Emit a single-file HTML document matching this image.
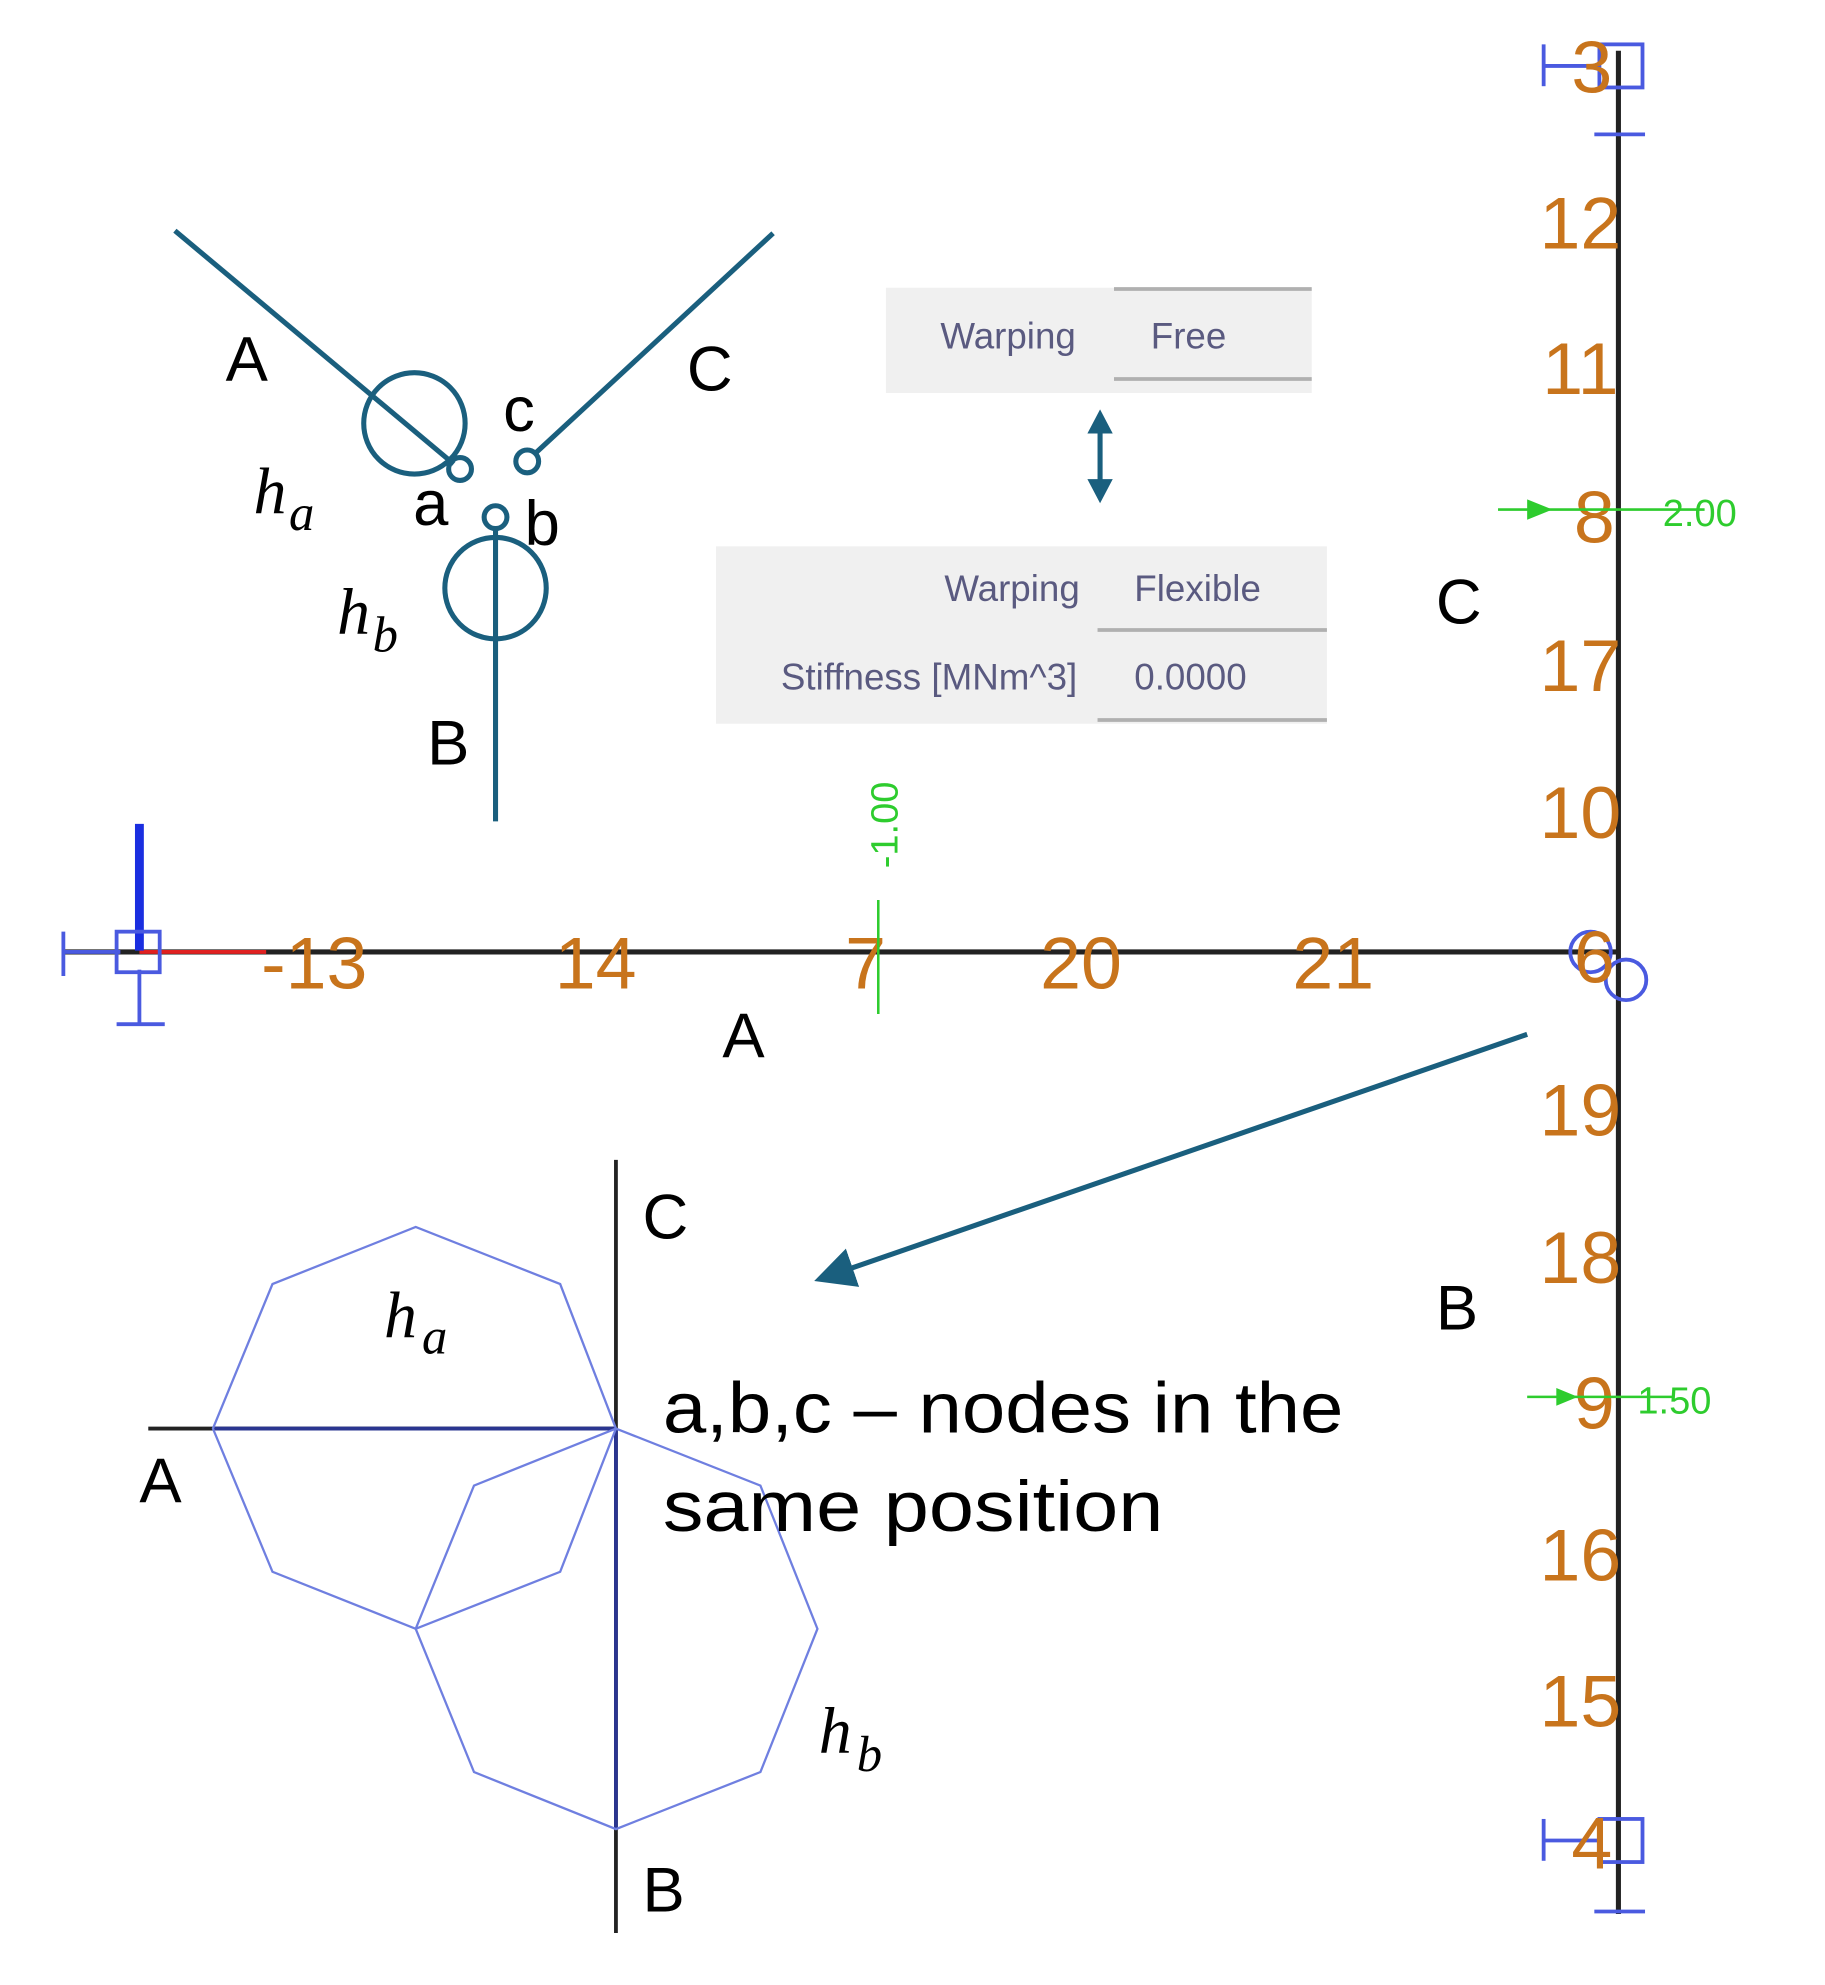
<!DOCTYPE html>
<html><head><meta charset="utf-8"><style>
html,body{margin:0;padding:0;background:#fff;}
svg{display:block}
text{font-family:"Liberation Sans",sans-serif}
.o{fill:#c8741c;font-size:58px;font-family:"Liberation Sans Narrow","Liberation Sans",sans-serif;text-anchor:middle}
.k{fill:#000;font-size:50px}
.m{fill:#000;font-size:52px;font-family:"Liberation Serif",serif;font-style:italic}
.s{fill:#000;font-size:40px;font-family:"Liberation Serif",serif;font-style:italic}
.w{fill:#5a5a80;font-size:29px}
.g{fill:#2ecc2e;font-size:30px;font-family:"Liberation Sans Narrow","Liberation Sans",sans-serif}
</style></head><body>
<svg width="1825" height="1985" viewBox="0 0 1440 1566" preserveAspectRatio="none" xmlns="http://www.w3.org/2000/svg">
<defs><marker id="ah" markerWidth="8" markerHeight="8" refX="6" refY="4" orient="auto" markerUnits="strokeWidth"><path d="M0,0 L8,4 L0,8 z" fill="#1a5f7e"/></marker></defs>
<g stroke="#1a5f7e" stroke-width="4" fill="none">
<line x1="138" y1="182" x2="358" y2="366"/>
<line x1="610" y1="184" x2="422" y2="358"/>
<line x1="391" y1="418" x2="391" y2="648"/>
<circle cx="327" cy="334" r="40"/>
<circle cx="391" cy="464" r="40"/>
<circle cx="363" cy="370" r="9"/>
<circle cx="416" cy="364" r="9"/>
<circle cx="391" cy="408" r="9"/>
</g>
<text class="k" x="178" y="300">A</text>
<text class="k" x="542" y="308">C</text>
<text class="k" x="397" y="340">c</text>
<text class="k" x="326" y="414">a</text>
<text class="k" x="414" y="430">b</text>
<text class="m" x="200" y="405">h</text><text class="s" x="228" y="418">a</text>
<text class="m" x="266" y="500">h</text><text class="s" x="294" y="514">b</text>
<text class="k" x="337" y="603">B</text>
<rect x="699" y="227" width="336" height="83" fill="#f0f0f0"/>
<line x1="879" y1="228" x2="1035" y2="228" stroke="#b0b0b0" stroke-width="3"/>
<line x1="879" y1="299" x2="1035" y2="299" stroke="#b0b0b0" stroke-width="3"/>
<text class="w" x="742" y="275">Warping</text>
<text class="w" x="908" y="275">Free</text>
<line x1="868" y1="335" x2="868" y2="385" stroke="#1a5f7e" stroke-width="4"/>
<path d="M858,342 L868,323 L878,342 z M858,378 L868,397 L878,378 z" fill="#1a5f7e"/>
<rect x="565" y="431" width="482" height="140" fill="#f0f0f0"/>
<line x1="866" y1="497" x2="1047" y2="497" stroke="#b0b0b0" stroke-width="3"/>
<line x1="866" y1="568" x2="1047" y2="568" stroke="#b0b0b0" stroke-width="3"/>
<text class="w" x="852" y="474" text-anchor="end">Warping</text>
<text class="w" x="895" y="474">Flexible</text>
<text class="w" x="850" y="544" text-anchor="end">Stiffness [MNm^3]</text>
<text class="w" x="895" y="544">0.0000</text>
<line x1="50" y1="751" x2="1277" y2="751" stroke="#222" stroke-width="4"/>
<line x1="1277" y1="40" x2="1277" y2="1510" stroke="#222" stroke-width="4"/>
<line x1="110" y1="751" x2="210" y2="751" stroke="#e02020" stroke-width="3"/>
<line x1="110" y1="650" x2="110" y2="750" stroke="#1a2ee0" stroke-width="7"/>
<g stroke="#4a5ae0" stroke-width="3" fill="none">
<line x1="50" y1="735" x2="50" y2="770"/><line x1="50" y1="751" x2="95" y2="751"/>
<line x1="110" y1="765" x2="110" y2="808"/><line x1="92" y1="808" x2="130" y2="808"/>
<rect x="92" y="735" width="34" height="32"/>
<line x1="1218" y1="35" x2="1218" y2="68"/><line x1="1218" y1="52" x2="1262" y2="52"/>
<rect x="1262" y="35" width="34" height="34"/>
<line x1="1258" y1="106" x2="1298" y2="106"/>
<line x1="1218" y1="1435" x2="1218" y2="1468"/><line x1="1218" y1="1452" x2="1262" y2="1452"/>
<rect x="1262" y="1435" width="34" height="34"/>
<line x1="1258" y1="1508" x2="1298" y2="1508"/>
<circle cx="1255" cy="751" r="16"/><circle cx="1283" cy="773" r="16"/>
</g>
<text class="o" x="248" y="780">-13</text>
<text class="o" x="470" y="780">14</text>
<text class="o" x="683" y="780">7</text>
<text class="o" x="853" y="780">20</text>
<text class="o" x="1052" y="780">21</text>
<text class="o" x="1256" y="73">3</text>
<text class="o" x="1247" y="196">12</text>
<text class="o" x="1247" y="311">11</text>
<text class="o" x="1258" y="428">8</text>
<text class="o" x="1247" y="545">17</text>
<text class="o" x="1247" y="661">10</text>
<text class="o" x="1258" y="775">6</text>
<text class="o" x="1247" y="896">19</text>
<text class="o" x="1247" y="1012">18</text>
<text class="o" x="1258" y="1127">9</text>
<text class="o" x="1247" y="1247">16</text>
<text class="o" x="1247" y="1362">15</text>
<text class="o" x="1256" y="1474">4</text>
<line x1="693" y1="710" x2="693" y2="800" stroke="#2ecc2e" stroke-width="2"/>
<text class="g" transform="translate(708,685) rotate(-90)">-1.00</text>
<line x1="1182" y1="402" x2="1345" y2="402" stroke="#2ecc2e" stroke-width="2"/>
<path d="M1205,394 L1225,402 L1205,410 z" fill="#2ecc2e"/>
<text class="g" x="1312" y="415">2.00</text>
<line x1="1205" y1="1102" x2="1320" y2="1102" stroke="#2ecc2e" stroke-width="2"/>
<path d="M1228,1095 L1245,1102 L1228,1109 z" fill="#2ecc2e"/>
<text class="g" x="1292" y="1115">1.50</text>
<text class="k" x="570" y="834">A</text>
<text class="k" x="1133" y="492">C</text>
<text class="k" x="1133" y="1049">B</text>
<line x1="1205" y1="816" x2="650" y2="1008" stroke="#1a5f7e" stroke-width="4" marker-end="url(#ah)"/>
<line x1="486" y1="915" x2="486" y2="1525" stroke="#222" stroke-width="3"/>
<line x1="117" y1="1127" x2="486" y2="1127" stroke="#222" stroke-width="3"/>
<line x1="168" y1="1127" x2="486" y2="1127" stroke="#2a3590" stroke-width="3"/>
<line x1="486" y1="1127" x2="486" y2="1443" stroke="#2a3590" stroke-width="3"/>
<g stroke="#6f7fe0" stroke-width="1.8" fill="none">
<polygon points="168,1127 215,1013 328,968 442,1013 486,1127 442,1240 328,1285 215,1240"/>
<polygon points="328,1285 374,1172 486,1127 600,1172 645,1285 600,1398 486,1443 374,1398"/>
</g>
<text class="k" x="507" y="977">C</text>
<text class="k" x="110" y="1185">A</text>
<text class="k" x="507" y="1508">B</text>
<text class="m" x="303" y="1055">h</text><text class="s" x="333" y="1068">a</text>
<text class="m" x="646" y="1383">h</text><text class="s" x="676" y="1397">b</text>
<text x="523" y="1130" textLength="537" lengthAdjust="spacingAndGlyphs" style="font-size:56px;fill:#000">a,b,c – nodes in the</text>
<text x="523" y="1208" textLength="395" lengthAdjust="spacingAndGlyphs" style="font-size:56px;fill:#000">same position</text>
</svg>
</body></html>
